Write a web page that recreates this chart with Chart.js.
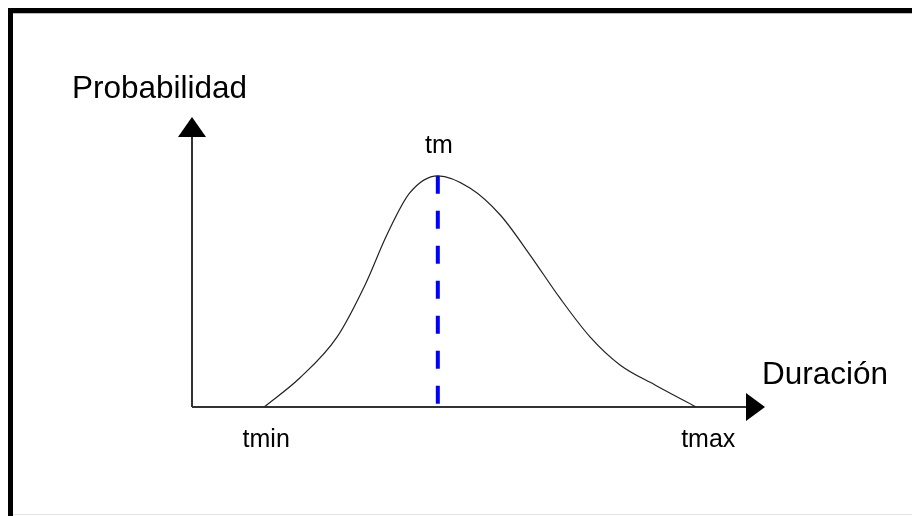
<!DOCTYPE html>
<html>
<head>
<meta charset="utf-8">
<script src="https://cdn.jsdelivr.net/npm/chart.js@4.4.1/dist/chart.umd.min.js"></script>
<style>
  html, body { margin: 0; padding: 0; background: #fff; }
  #wrap { width: 912px; height: 516px; position: relative; }
</style>
</head>
<body>
<div id="wrap"><canvas id="chart_duracion"></canvas></div>
<script>
// duration (0..100) and probability (0..100)
var durations = [12.6, 18.8, 25.3, 30.2, 34.0, 38.0, 42.9,
                 48.5, 53.8, 59.0, 64.2, 69.5, 74.7, 80.8, 88.0];
var probabilities = [0, 10.0, 24.1, 42.1, 59.3, 73.8, 79.7,
                     75.5, 66.2, 52.4, 37.6, 24.1, 14.5, 7.6, 0];
var markerLabels = ['tmin', 'tm', 'tmax'];
var markerValues = [12.6, 42.9, 88.0];
var peakValue = 79.7;
var xTitle = 'Duración';
var yTitle = 'Probabilidad';

var curve = durations.map(function (d, i) { return { x: d, y: probabilities[i] }; });
var modeLine = [{ x: markerValues[1], y: peakValue }, { x: markerValues[1], y: 0 }];

var chart_duracion = new Chart(document.getElementById('chart_duracion'), {
    type: 'scatter',
    data: {
        datasets: [
            {
                label: 'Distribución',
                data: curve,
                showLine: true,
                borderColor: '#222',
                borderWidth: 1.2,
                pointRadius: 0,
                cubicInterpolationMode: 'monotone',
                fill: false
            },
            {
                label: 'tm',
                data: modeLine,
                showLine: true,
                borderColor: '#0000ff',
                borderWidth: 4,
                borderDash: [18, 17],
                pointRadius: 0,
                fill: false
            }
        ]
    },
    options: {
        animation: false,
        responsive: true,
        maintainAspectRatio: false,
        layout: { padding: { left: 192, right: 147, top: 117, bottom: 109 } },
        plugins: {
            legend: { display: false },
            tooltip: { enabled: false }
        },
        scales: {
            x: { type: 'linear', min: 0, max: 100, display: false },
            y: { type: 'linear', min: 0, max: 100, display: false }
        }
    },
    plugins: [{
        id: 'diagramPlugin',
        beforeDraw: (chart) => {
            const ctx = chart.ctx;
            const w = chart.width, h = chart.height;
            const a = chart.chartArea;
            ctx.save();
            ctx.fillStyle = 'white';
            ctx.fillRect(0, 0, w, h);
            // frame
            ctx.fillStyle = '#000';
            ctx.fillRect(8, 8, w - 8, 5);
            ctx.fillRect(8, 8, 5, h - 8);
            ctx.fillStyle = '#e4e4e4';
            ctx.fillRect(13, h - 2, w - 13, 1);
            ctx.fillStyle = '#bbb';
            ctx.fillRect(13, 13, w - 13, 1);
            // axes
            ctx.strokeStyle = '#333';
            ctx.lineWidth = 2;
            ctx.beginPath();
            ctx.moveTo(a.left, a.bottom);
            ctx.lineTo(a.left, a.top + 18);
            ctx.moveTo(a.left, a.bottom);
            ctx.lineTo(a.right - 18, a.bottom);
            ctx.stroke();
            ctx.fillStyle = '#000';
            ctx.beginPath();
            ctx.moveTo(a.left, a.top);
            ctx.lineTo(a.left - 14, a.top + 20);
            ctx.lineTo(a.left + 14, a.top + 20);
            ctx.closePath();
            ctx.fill();
            ctx.beginPath();
            ctx.moveTo(a.right, a.bottom);
            ctx.lineTo(a.right - 19, a.bottom - 14);
            ctx.lineTo(a.right - 19, a.bottom + 14);
            ctx.closePath();
            ctx.fill();
            ctx.restore();
        },
        afterDraw: (chart) => {
            const ctx = chart.ctx;
            const a = chart.chartArea;
            const xs = chart.scales.x, ys = chart.scales.y;
            ctx.save();
            ctx.fillStyle = '#000';
            ctx.textBaseline = 'alphabetic';
            ctx.font = '31.5px "Liberation Sans", Arial, sans-serif';
            ctx.textAlign = 'left';
            ctx.fillText(yTitle, 72, 98);
            ctx.fillText(xTitle, a.right - 3, 384);
            ctx.font = '25px "Liberation Sans", Arial, sans-serif';
            ctx.textAlign = 'center';
            const dx = [2, 1, 12];
            markerLabels.forEach(function (lbl, i) {
                const px = xs.getPixelForValue(markerValues[i]) + dx[i];
                const py = i === 1 ? ys.getPixelForValue(peakValue) - 23 : a.bottom + 40;
                ctx.fillText(lbl, px, py);
            });
            ctx.restore();
        }
    }]
});
</script>
</body>
</html>
